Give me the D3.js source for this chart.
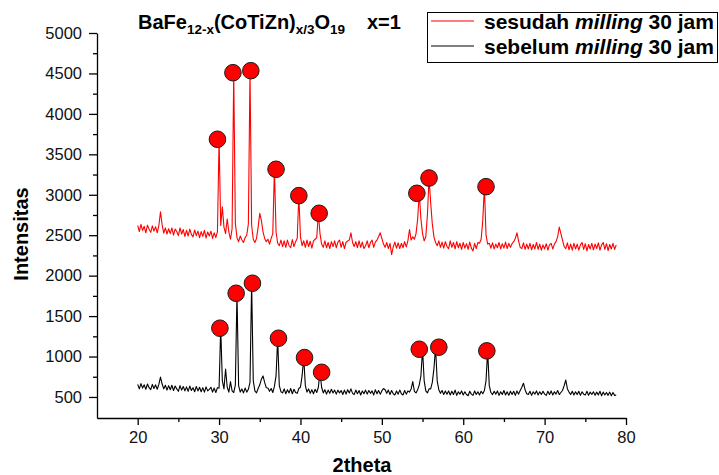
<!DOCTYPE html>
<html><head><meta charset="utf-8">
<script src="https://cdn.jsdelivr.net/npm/d3@7"></script>
<style>body{margin:0;background:#fff} svg{display:block} text{font-family:"Liberation Sans",Arial,Helvetica,sans-serif}</style>
</head><body><svg id="c" width="719" height="475"></svg>
<script>
// 2theta grid: start and step (degrees)
const thetaStart = 20.0, thetaStep = 0.2;
// intensity after 30 h milling (red)
const sesudah = [
2620,2545,2635,2560,2610,2530,2625,2575,2535,2615,
2550,2605,2530,2620,2790,2630,2525,2590,2515,2580,
2520,2590,2500,2575,2545,2495,2590,2515,2570,2485,
2560,2490,2575,2510,2480,2565,2495,2550,2470,2545,
2485,2560,2465,2540,2490,2550,2460,2530,2470,2545,
3690,2620,2850,2600,2520,2700,2540,2450,2580,4510,
2650,2470,2420,2490,2440,2410,2470,2500,2640,4530,
2620,2450,2410,2460,2600,2770,2680,2540,2460,2420,
2450,2390,2460,2520,3320,2540,2400,2370,2440,2360,
2430,2350,2440,2370,2345,2445,2360,2420,2460,2990,
2480,2370,2430,2350,2440,2360,2425,2340,2430,2450,
2470,2775,2520,2390,2350,2430,2345,2410,2335,2420,
2360,2430,2345,2415,2440,2350,2420,2335,2410,2430,
2440,2530,2410,2360,2420,2345,2430,2350,2415,2335,
2370,2430,2345,2410,2440,2350,2415,2440,2480,2530,
2460,2390,2350,2410,2335,2400,2260,2355,2415,2340,
2405,2335,2400,2345,2420,2355,2430,2570,2440,2480,
2450,2520,2700,3020,2700,2520,2430,2480,2750,3210,
2900,2640,2480,2410,2370,2430,2350,2415,2340,2420,
2360,2335,2430,2350,2410,2330,2420,2345,2400,2325,
2410,2340,2395,2325,2415,2340,2305,2400,2335,2410,
2400,2450,2680,3100,2500,2390,2400,2340,2405,2330,
2390,2345,2410,2330,2395,2340,2415,2335,2400,2350,
2395,2420,2460,2530,2430,2350,2335,2405,2325,2390,
2330,2400,2320,2385,2330,2410,2325,2390,2315,2380,
2330,2395,2315,2380,2400,2330,2390,2420,2480,2600,
2520,2440,2360,2335,2405,2320,2390,2315,2400,2330,
2390,2315,2380,2410,2325,2395,2305,2385,2330,2400,
2320,2390,2335,2405,2315,2380,2410,2325,2395,2310,
2385,2330,2400,2325,2380];
// intensity before milling (black)
const sebelum = [
655,600,665,610,650,595,660,615,590,655,
605,650,595,655,745,660,600,645,585,640,
590,645,580,635,600,570,640,585,630,575,
625,570,635,580,615,565,630,575,620,565,
615,560,625,575,595,620,560,610,555,615,
610,1350,700,600,845,620,560,690,575,555,
650,1780,640,560,600,550,610,560,595,680,
1905,700,575,550,605,650,720,760,680,615,
610,570,605,555,630,760,1225,640,565,550,
600,540,590,550,605,540,595,555,545,605,
620,760,985,640,560,600,545,590,540,595,
555,620,805,620,550,590,535,585,545,595,
550,585,535,585,550,580,530,585,535,590,
550,600,545,530,585,540,580,525,575,540,
585,535,580,545,575,525,590,540,580,535,
575,605,590,545,585,530,580,540,525,575,
535,585,540,525,580,535,575,560,600,690,
570,550,590,650,760,1090,700,575,550,600,
600,680,850,1115,700,590,545,580,530,575,
535,575,525,570,530,585,520,565,535,575,
525,565,530,515,570,535,520,575,530,565,
525,570,540,580,700,1070,640,555,530,570,
535,575,520,565,530,580,525,565,520,570,
530,570,520,575,535,580,620,670,590,540,
530,570,520,565,535,575,525,565,530,570,
535,520,570,530,575,525,565,535,580,530,
555,580,640,710,600,560,530,570,525,565,
530,570,520,565,535,525,570,520,560,530,
565,520,560,525,570,515,560,525,555,520,
560,515,555,520,525];
// marked peaks (circle centres)
const sesudahPeakTheta = [29.8,31.7,33.9,37.0,39.8,42.3,54.3,55.8,62.8];
const sesudahPeakI     = [3686,4509,4534,3315,2989,2771,3018,3207,3100];
const sebelumPeakTheta = [30.1,32.1,34.1,37.3,40.5,42.6,54.6,57.0,62.9];
const sebelumPeakI     = [1350,1782,1906,1226,987,805,1090,1115,1070];
// axes
const xTicks = [20,30,40,50,60,70,80];
const xMinorTicks = [25,35,45,55,65,75];
const yTicks = [500,1000,1500,2000,2500,3000,3500,4000,4500,5000];
const yMinorTicks = [750,1250,1750,2250,2750,3250,3750,4250,4750];
const legendLabels = ["sesudah", "sebelum"];
const seriesColors = ["#ff0000", "#000000"];

const svg = d3.select("#c");
const x = d3.scaleLinear().domain([15, 80]).range([97, 626]);
const y = d3.scaleLinear().domain([240, 5000]).range([418, 33]);

const thetas = sesudah.map((d, i) => thetaStart + i * thetaStep);
const line = d3.line().x((d, i) => x(thetas[i])).y(d => y(d));

svg.append("path").attr("d", line(sesudah)).attr("fill", "none")
  .attr("stroke", seriesColors[0]).attr("stroke-width", 1.1).attr("stroke-linejoin", "round");
svg.append("path").attr("d", line(sebelum)).attr("fill", "none")
  .attr("stroke", seriesColors[1]).attr("stroke-width", 1.1).attr("stroke-linejoin", "round");

const markers = sesudahPeakTheta.map((t, i) => [t, sesudahPeakI[i]])
  .concat(sebelumPeakTheta.map((t, i) => [t, sebelumPeakI[i]]));
svg.selectAll("circle.pk").data(markers).join("circle").attr("class", "pk")
  .attr("cx", d => x(d[0])).attr("cy", d => y(d[1])).attr("r", 8.3)
  .attr("fill", "#ff0000").attr("stroke", "#1a1a1a").attr("stroke-width", 1);

// axes
function styleAxis(g) {
  g.selectAll("path.domain").attr("stroke", "#000").attr("stroke-width", 1.3);
  g.selectAll(".tick line").attr("stroke", "#000").attr("stroke-width", 1.3);
  g.selectAll(".tick text").attr("fill", "#111").style("font-size", "16.5px");
}
const gxm = svg.append("g").attr("transform", "translate(0,418)")
  .call(d3.axisBottom(x).tickValues(xMinorTicks).tickFormat("").tickSize(4).tickSizeOuter(0));
styleAxis(gxm); gxm.select("path.domain").remove();
const gx = svg.append("g").attr("transform", "translate(0,418)")
  .call(d3.axisBottom(x).tickValues(xTicks).tickFormat(d3.format("d")).tickSize(7).tickSizeOuter(0).tickPadding(6));
styleAxis(gx);
const gym = svg.append("g").attr("transform", "translate(97,0)")
  .call(d3.axisLeft(y).tickValues(yMinorTicks).tickFormat("").tickSize(4).tickSizeOuter(0));
styleAxis(gym); gym.select("path.domain").remove();
const gy = svg.append("g").attr("transform", "translate(97,0)")
  .call(d3.axisLeft(y).tickValues(yTicks).tickFormat(d3.format("d")).tickSize(8).tickSizeOuter(0).tickPadding(7));
styleAxis(gy);

// axis titles
svg.append("text").attr("x", 362).attr("y", 472).attr("text-anchor", "middle")
  .style("font-size", "20px").style("font-weight", "bold").text("2theta");
svg.append("text").attr("transform", "translate(28,234) rotate(-90)").attr("text-anchor", "middle")
  .style("font-size", "20px").style("font-weight", "bold").text("Intensitas");

// title
const t = svg.append("text").attr("x", 138).attr("y", 29).style("font-weight", "bold").style("font-size", "20px");
t.append("tspan").text("BaFe");
t.append("tspan").attr("dy", 5).style("font-size", "13.5px").text("12-x");
t.append("tspan").attr("dy", -5).text("(CoTiZn)");
t.append("tspan").attr("dy", 5).style("font-size", "13.5px").text("x/3");
t.append("tspan").attr("dy", -5).text("O");
t.append("tspan").attr("dy", 5).style("font-size", "13.5px").text("19");
svg.append("text").attr("x", 367).attr("y", 29).style("font-weight", "bold").style("font-size", "20px").text("x=1");

// legend
const lg = svg.append("g");
lg.append("rect").attr("x", 427.5).attr("y", 12.5).attr("width", 290).attr("height", 50)
  .attr("fill", "#fff").attr("stroke", "#000").attr("stroke-width", 1);
legendLabels.forEach((lab, i) => {
  const yy = 21 + i * 25;
  lg.append("line").attr("x1", 431).attr("x2", 474).attr("y1", yy).attr("y2", yy)
    .attr("stroke", seriesColors[i]).attr("stroke-width", 1.2);
  const tx = lg.append("text").attr("x", 484).attr("y", yy + 8).style("font-weight", "bold").style("font-size", "21px");
  tx.append("tspan").text(lab + " ");
  tx.append("tspan").style("font-style", "italic").text("milling");
  tx.append("tspan").text(" 30 jam");
});
</script></body></html>
